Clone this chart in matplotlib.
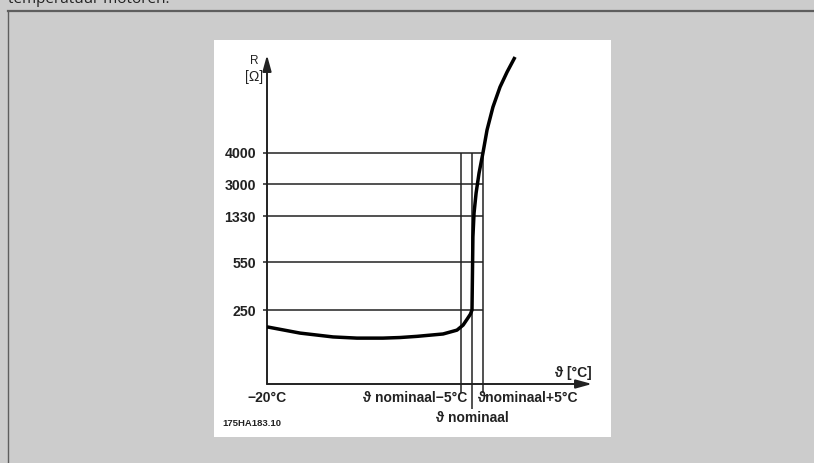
import numpy as np
import matplotlib
matplotlib.use("Agg")
import matplotlib.pyplot as plt
from matplotlib.patches import Rectangle
from matplotlib.lines import Line2D

plt.rcParams['font.family'] = ['Liberation Sans', 'DejaVu Sans']

# PTC thermistor characteristic (schematic), nominal trip temperature
t_nominal = 70
temp = [-20, -5.5, 9.0, 19.5, 30.9, 38.4, 45.9, 57.3, 63.4, 66.1, 68.2, 69.3, 70.0,
        70.2, 70.4, 70.9, 71.8, 73.1, 74.8, 76.6, 79.2, 82.3, 85.4, 88.9]
resistance = [193, 172, 159, 155, 155, 157, 161, 169, 182, 199, 223, 236, 250,
              475, 974, 1487, 2530, 3355, 4000, 4742, 5484, 6129, 6613, 7097]

r_ticks = [250, 550, 1330, 3000, 4000]
r_labels = ['250', '550', '1330', '3000', '4000']

# schematic (non-linear) resistance axis
r_anchor = [-1000, 0, 250, 550, 1330, 3000, 4000, 8000]
h_anchor = [-296, 0, 74, 122, 168, 200, 231, 355]


def fwd(r):
    return np.interp(r, r_anchor, h_anchor)


def inv(h):
    return np.interp(h, h_anchor, r_anchor)


W, H = 814, 463
fig = plt.figure(figsize=(W / 100, H / 100), dpi=100)
fig.patch.set_facecolor('#cccccc')

# outer frame and white panel (behind the chart)
fig.add_artist(Line2D([8 / W, 1.0], [1 - 11 / H, 1 - 11 / H], color='#5e5e5e', lw=1.6, zorder=-5))
fig.add_artist(Line2D([8 / W, 8 / W], [0, 1 - 11 / H], color='#5e5e5e', lw=1.0, zorder=-5))
fig.add_artist(Rectangle((214 / W, 1 - 437 / H), (611 - 214) / W, (437 - 40) / H,
                         transform=fig.transFigure, facecolor='white', edgecolor='none',
                         zorder=-5))
fig.text(8 / W, 1 - 3 / H, 'temperatuur motoren.', fontsize=11, family='Open Sans',
         va='baseline', ha='left', color='#222222')

ax = fig.add_axes([267 / W, 1 - 384 / H, (592 - 267) / W, (384 - 55) / H])
ax.patch.set_alpha(0)
ax.set_yscale('function', functions=(fwd, inv))
ax.set_xlim(-20, -20 + 325 * 90 / 205)
ax.set_ylim(0, inv(329))
for s in ax.spines.values():
    s.set_visible(False)

line_c = '#222222'
ax.set_xticks([])
ax.set_yticks(r_ticks)
ax.set_yticklabels(r_labels, fontsize=10.2, fontweight='bold', color=line_c)
ax.tick_params(axis='y', direction='out', length=3, width=1.1, color=line_c, pad=5)

# reference lines
ax.hlines(r_ticks, -20, t_nominal + 5, color=line_c, lw=1.1, zorder=2)
ax.vlines([t_nominal - 5, t_nominal + 5], -30, 4000, color=line_c, lw=1.1, clip_on=False, zorder=2)
ax.vlines(t_nominal, -85, 4000, color=line_c, lw=1.1, clip_on=False, zorder=2)

# characteristic curve
ax.plot(temp, resistance, color='black', lw=2.5, solid_capstyle='butt',
        solid_joinstyle='round', zorder=4)

# axes with arrows
arrow = dict(arrowstyle='-|>,head_length=0.8,head_width=0.22', lw=1.4, color=line_c,
             mutation_scale=12, shrinkA=0, shrinkB=0)
ax.annotate('', xy=(1, 0), xytext=(0, 0), xycoords='axes fraction', arrowprops=arrow)
ax.annotate('', xy=(0, 1), xytext=(0, 0), xycoords='axes fraction', arrowprops=arrow)

lab = dict(fontsize=10, fontweight='bold', color=line_c, va='center')
ax.annotate('R', xy=(0, 1), xycoords='axes fraction', xytext=(-13, -6),
            textcoords='offset pixels', ha='center', fontsize=8.5, color=line_c, va='center')
ax.annotate('[Ω]', xy=(0, 1), xycoords='axes fraction', xytext=(-13, -22),
            textcoords='offset pixels', ha='center', fontsize=10, color=line_c, va='center')
ax.annotate('ϑ [°C]', xy=(1, 0), xycoords='axes fraction', xytext=(0, 11),
            textcoords='offset pixels', ha='right', **lab)
ax.annotate('−20°C', xy=(-20, 0), xycoords=('data', 'axes fraction'), xytext=(0, -14),
            textcoords='offset pixels', ha='center', **lab)
ax.annotate('ϑ nominaal−5°C', xy=(t_nominal - 5, 0), xycoords=('data', 'axes fraction'),
            xytext=(7, -14), textcoords='offset pixels', ha='right', **lab)
ax.annotate('ϑnominaal+5°C', xy=(t_nominal + 5, 0), xycoords=('data', 'axes fraction'),
            xytext=(-6, -14), textcoords='offset pixels', ha='left', **lab)
ax.annotate('ϑ nominaal', xy=(t_nominal, 0), xycoords=('data', 'axes fraction'),
            xytext=(0, -34), textcoords='offset pixels', ha='center', **lab)

fig.text(222 / W, 1 - 424 / H, '175HA183.10', fontsize=6.8, fontweight='bold',
         color=line_c, ha='left', va='center')

fig.savefig('out.png', dpi=100, facecolor=fig.get_facecolor())
